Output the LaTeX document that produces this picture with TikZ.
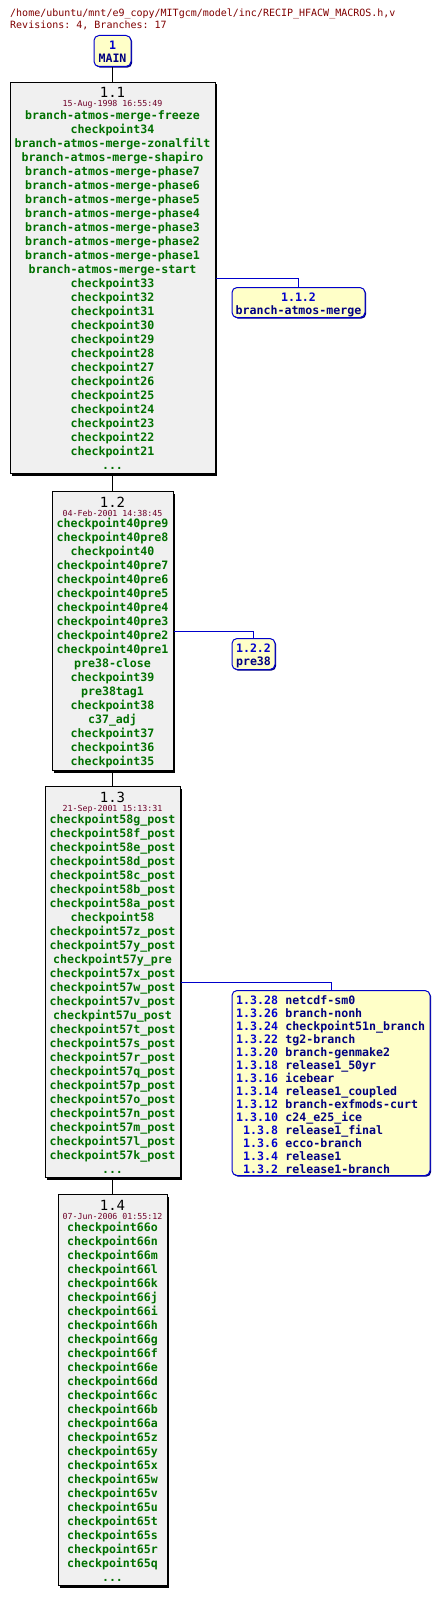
\documentclass[tikz,border=0pt]{standalone}
\usepackage{fontspec}
\setmonofont{DejaVu Sans Mono}
\usepackage{xcolor}
\usetikzlibrary{positioning, shadows}
\definecolor{pathred}{RGB}{128,0,0}
\definecolor{datered}{RGB}{110,0,40}
\definecolor{taggreen}{RGB}{0,112,0}
\definecolor{revgray}{RGB}{240,240,240}
\definecolor{brfill}{RGB}{255,255,200}
\definecolor{brblue}{RGB}{0,0,204}
\definecolor{brnavy}{RGB}{0,0,128}
\tikzset{
    % Revision boxes
    revbox/.style={rectangle, draw=black, line width=1pt, fill=revgray, anchor=north,
                   inner sep=0pt, drop shadow={shadow xshift=2pt, shadow yshift=-2pt,
                   fill=black, opacity=1}},
    revnum/.style={anchor=base, inner sep=0pt, font=\ttfamily\fontsize{14pt}{16pt}\selectfont},
    revdate/.style={anchor=base, inner sep=0pt, text=datered,
                    font=\ttfamily\fontsize{8.3pt}{10pt}\selectfont},
    tagtext/.style={anchor=base, inner sep=0pt, text=taggreen,
                    font=\ttfamily\bfseries\fontsize{11.6pt}{14pt}\selectfont},
    % Branch boxes
    brbox/.style={rectangle, rounded corners=5pt, draw=brblue, line width=1pt, fill=brfill,
                  anchor=north, inner sep=0pt, drop shadow={shadow xshift=1.2pt,
                  shadow yshift=-1.2pt, fill=brnavy, opacity=1}},
    brnum/.style={inner sep=0pt, text=brblue,
                  font=\ttfamily\bfseries\fontsize{11.6pt}{13pt}\selectfont},
    brname/.style={inner sep=0pt, text=brnavy,
                   font=\ttfamily\bfseries\fontsize{11.6pt}{13pt}\selectfont},
    % Connectors
    trunk/.style={draw=black, line width=1pt},
    branch/.style={draw=brblue, line width=1pt},
    header/.style={anchor=base west, inner sep=0pt, text=pathred,
                   font=\ttfamily\fontsize{10pt}{12pt}\selectfont},
}

\begin{document}
\begin{tikzpicture}[x=1pt, y=-1pt]
    \useasboundingbox[fill=white] (0,0) rectangle (440,1597);

    % Header
    \node[header] (path) at (10,16.3) {/home/ubuntu/mnt/e9\_copy/MITgcm/model/inc/RECIP\_HFACW\_MACROS.h,v};
    \node[header] (count) at (10,28.6) {Revisions: 4, Branches: 17};

    % MAIN
    \node[brbox, minimum width=37pt, minimum height=31pt] (main) at (112.5,35) {};
    \node[brnum, anchor=base] (main-n) at ([yshift=-14.5pt]main.north) {1};
    \node[brname, anchor=base] (main-m) at ([yshift=-27.5pt]main.north) {MAIN};

    % Revision 1.1
    \node[revbox, minimum width=205pt, minimum height=391pt] (r11) at (112.5,82) {};
    \node[revnum] (r11-n) at ([yshift=-16pt]r11.north) {1.1};
    \node[revdate] (r11-d) at ([yshift=-25pt]r11.north) {15-Aug-1998 16:55:49};
    \foreach \t [count=\i] in {branch-atmos-merge-freeze, checkpoint34,
        branch-atmos-merge-zonalfilt, branch-atmos-merge-shapiro,
        branch-atmos-merge-phase7, branch-atmos-merge-phase6, branch-atmos-merge-phase5,
        branch-atmos-merge-phase4, branch-atmos-merge-phase3, branch-atmos-merge-phase2,
        branch-atmos-merge-phase1, branch-atmos-merge-start, checkpoint33, checkpoint32,
        checkpoint31, checkpoint30, checkpoint29, checkpoint28, checkpoint27,
        checkpoint26, checkpoint25, checkpoint24, checkpoint23, checkpoint22,
        checkpoint21} {
        \node[tagtext] (r11-t\i) at ([yshift={-(23.3+14*\i)*1pt}]r11.north) {\t};
    }
    \node[tagtext] (r11-more) at ([yshift=-387.3pt]r11.north) {...};

    % Branch 1.1.2
    \node[brbox, minimum width=133pt, minimum height=30pt] (b112) at (298.5,287) {};
    \node[brnum, anchor=base] (b112-n) at ([yshift=-14pt]b112.north) {1.1.2};
    \node[brname, anchor=base] (b112-m) at ([yshift=-27pt]b112.north) {branch-atmos-merge};

    % Revision 1.2
    \node[revbox, minimum width=121pt, minimum height=279pt] (r12) at (112.5,491) {};
    \node[revnum] (r12-n) at ([yshift=-16pt]r12.north) {1.2};
    \node[revdate] (r12-d) at ([yshift=-25pt]r12.north) {04-Feb-2001 14:38:45};
    \foreach \t [count=\i] in {checkpoint40pre9, checkpoint40pre8, checkpoint40,
        checkpoint40pre7, checkpoint40pre6, checkpoint40pre5, checkpoint40pre4,
        checkpoint40pre3, checkpoint40pre2, checkpoint40pre1, pre38-close,
        checkpoint39, pre38tag1, checkpoint38, c37\_adj, checkpoint37,
        checkpoint36, checkpoint35} {
        \node[tagtext] (r12-t\i) at ([yshift={-(22.8+14*\i)*1pt}]r12.north) {\t};
    }

    % Branch 1.2.2
    \node[brbox, minimum width=43pt, minimum height=31pt] (b122) at (253.5,638) {};
    \node[brnum, anchor=base] (b122-n) at ([yshift=-14.5pt]b122.north) {1.2.2};
    \node[brname, anchor=base] (b122-m) at ([yshift=-27.5pt]b122.north) {pre38};

    % Revision 1.3
    \node[revbox, minimum width=135pt, minimum height=391pt] (r13) at (112.5,786) {};
    \node[revnum] (r13-n) at ([yshift=-16pt]r13.north) {1.3};
    \node[revdate] (r13-d) at ([yshift=-25pt]r13.north) {21-Sep-2001 15:13:31};
    \foreach \t [count=\i] in {checkpoint58g\_post, checkpoint58f\_post,
        checkpoint58e\_post, checkpoint58d\_post, checkpoint58c\_post,
        checkpoint58b\_post, checkpoint58a\_post, checkpoint58, checkpoint57z\_post,
        checkpoint57y\_post, checkpoint57y\_pre, checkpoint57x\_post,
        checkpoint57w\_post, checkpoint57v\_post, checkpint57u\_post,
        checkpoint57t\_post, checkpoint57s\_post, checkpoint57r\_post,
        checkpoint57q\_post, checkpoint57p\_post, checkpoint57o\_post,
        checkpoint57n\_post, checkpoint57m\_post, checkpoint57l\_post,
        checkpoint57k\_post} {
        \node[tagtext] (r13-t\i) at ([yshift={-(23.3+14*\i)*1pt}]r13.north) {\t};
    }
    \node[tagtext] (r13-more) at ([yshift=-387.3pt]r13.north) {...};

    % Branches of 1.3
    \node[brbox, minimum width=198pt, minimum height=185pt] (b13) at (331,990) {};
    \foreach \n/\m [count=\i] in {1.3.28/netcdf-sm0, 1.3.26/branch-nonh,
        1.3.24/checkpoint51n\_branch, 1.3.22/tg2-branch, 1.3.20/branch-genmake2,
        1.3.18/release1\_50yr, 1.3.16/icebear, 1.3.14/release1\_coupled,
        1.3.12/branch-exfmods-curt, 1.3.10/c24\_e25\_ice, 1.3.8/release1\_final,
        1.3.6/ecco-branch, 1.3.4/release1, 1.3.2/release1-branch} {
        \node[brnum, anchor=base east] (b13-n\i)
            at ([xshift=46.7pt, yshift={-(1.3+13*\i)*1pt}]b13.north west) {\n};
        \node[brname, anchor=base west] (b13-m\i)
            at ([xshift=53.7pt, yshift={-(1.3+13*\i)*1pt}]b13.north west) {\m};
    }

    % Revision 1.4
    \node[revbox, minimum width=109pt, minimum height=391pt] (r14) at (112.5,1194) {};
    \node[revnum] (r14-n) at ([yshift=-16pt]r14.north) {1.4};
    \node[revdate] (r14-d) at ([yshift=-25pt]r14.north) {07-Jun-2006 01:55:12};
    \foreach \t [count=\i] in {checkpoint66o, checkpoint66n, checkpoint66m,
        checkpoint66l, checkpoint66k, checkpoint66j, checkpoint66i, checkpoint66h,
        checkpoint66g, checkpoint66f, checkpoint66e, checkpoint66d, checkpoint66c,
        checkpoint66b, checkpoint66a, checkpoint65z, checkpoint65y, checkpoint65x,
        checkpoint65w, checkpoint65v, checkpoint65u, checkpoint65t, checkpoint65s,
        checkpoint65r, checkpoint65q} {
        \node[tagtext] (r14-t\i) at ([yshift={-(23.3+14*\i)*1pt}]r14.north) {\t};
    }
    \node[tagtext] (r14-more) at ([yshift=-387.3pt]r14.north) {...};

    % Connectors
    \draw[trunk] (main.south) -- (r11.north);
    \draw[trunk] (r11.south) -- (r12.north);
    \draw[trunk] (r12.south) -- (r13.north);
    \draw[trunk] (r13.south) -- (r14.north);
    \draw[branch] (r11.east) -| (b112.north);
    \draw[branch] (r12.east) -| (b122.north);
    \draw[branch] (r13.east) -| (b13.north);
\end{tikzpicture}
\end{document}
